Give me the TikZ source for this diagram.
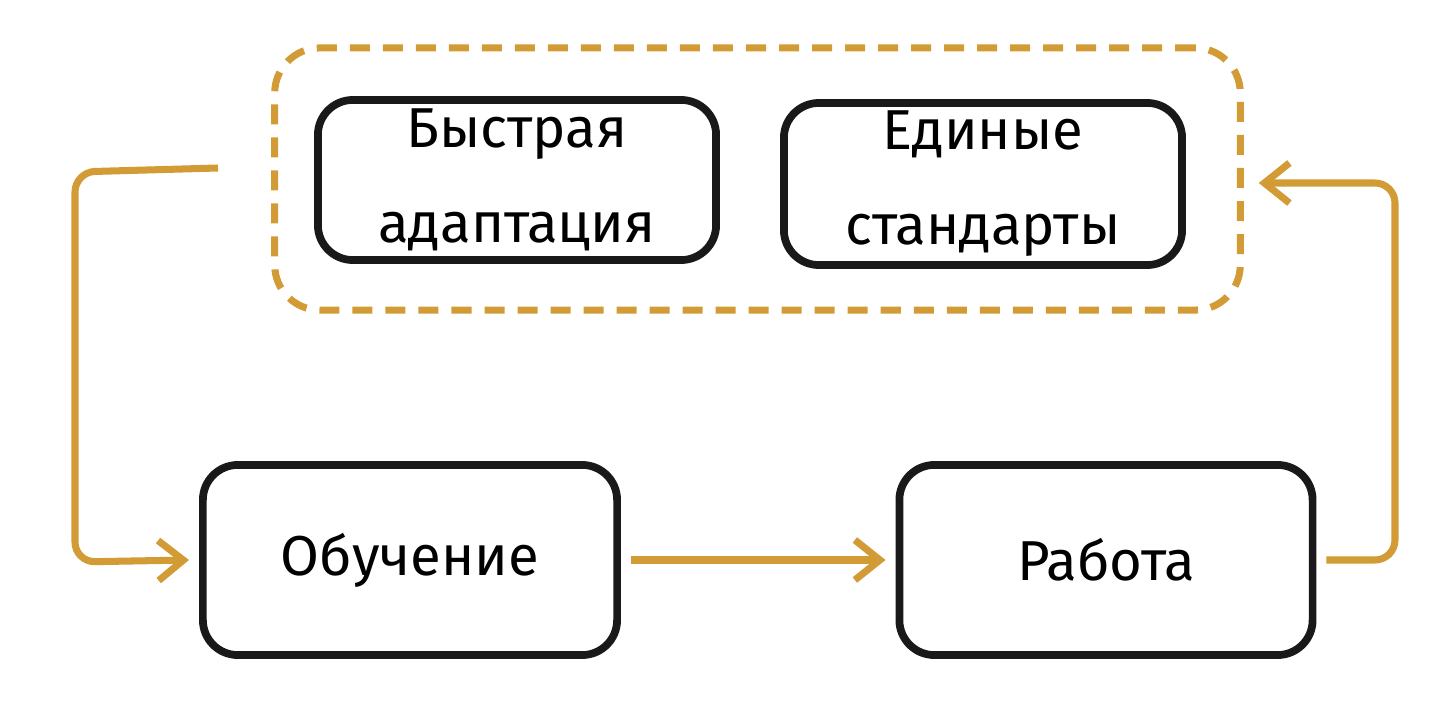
\documentclass[tikz,border=0pt]{standalone}
\usepackage{fontspec}
\setmainfont{Fira Sans}
\usetikzlibrary{arrows.meta}
\definecolor{org}{HTML}{D29B35}
\begin{document}
\begin{tikzpicture}[x=0.01cm,y=-0.01cm,
  box/.style={draw=black!90,line width=2.2pt,rounded corners=0.35cm,align=center,font=\fontsize{16}{27}\selectfont,inner sep=0pt},
  conn/.style={draw=org,line width=2pt,-{Straight Barb[length=0.25cm,width=0.4cm]}}]
\useasboundingbox (0,0) rectangle (1453,718);
\node[draw=org,dash pattern=on 0.2cm off 0.13cm,line width=2pt,rounded corners=0.45cm,minimum width=9.65cm,minimum height=2.62cm] (grp) at (757.5,179) {};
\node[box,minimum width=3.98cm,minimum height=1.6cm] (a) at (517,180) {Быстрая\\адаптация};
\node[box,minimum width=3.98cm,minimum height=1.62cm] (b) at (983,184) {Единые\\стандарты};
\node[box,minimum width=4.14cm,minimum height=1.9cm] (c) at (410,560) {Обучение};
\node[box,minimum width=4.13cm,minimum height=1.9cm] (d) at (1106,560) {Работа};
\coordinate (s1) at (218,168);
\draw[conn,rounded corners=0.2cm] (s1) -- (75,172) -- (75,562) -- ([xshift=-0.1cm]c.west);
\draw[conn] ([xshift=0.1cm]c.east) -- ([xshift=-0.1cm]d.west);
\draw[conn,rounded corners=0.2cm] ([xshift=0.1cm]d.east) -- (1395,560) -- (1395,183) -- ([xshift=0.15cm]grp.east |- 0,183);
\end{tikzpicture}
\end{document}
